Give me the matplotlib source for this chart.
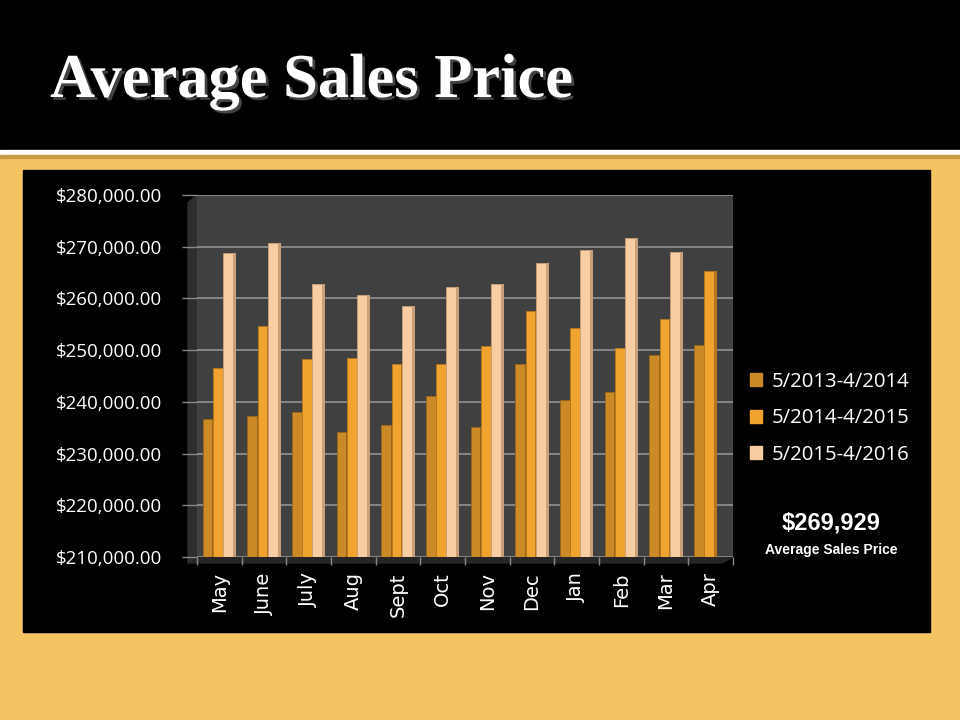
import numpy as np
import matplotlib
matplotlib.use("Agg")
import matplotlib.pyplot as plt
from matplotlib.patches import Rectangle, Polygon
from matplotlib.ticker import FuncFormatter, FixedLocator
import matplotlib.patheffects as pe

months = ["May", "June", "July", "Aug", "Sept", "Oct", "Nov", "Dec", "Jan", "Feb", "Mar", "Apr"]
series_names = ["5/2013-4/2014", "5/2014-4/2015", "5/2015-4/2016"]
s2013 = [236700, 237300, 238000, 234100, 235500, 241200, 235200, 247300, 240400, 242000, 249000, 251000]
s2014 = [246500, 254600, 248300, 248500, 247400, 247300, 250800, 257500, 254300, 250500, 256100, 265300]
s2015 = [268800, 270800, 262700, 260700, 258500, 262300, 262800, 266800, 269300, 271600, 269000, np.nan]
series = [s2013, s2014, s2015]
face_cols = ["#CC8A26", "#F0A32F", "#F8CDA2"]
side_cols = ["#9C6618", "#B8771C", "#C9A07A"]
avg_text = "$269,929"
avg_label = "Average Sales Price"

W, H = 960, 720
fig = plt.figure(figsize=(9.6, 7.2), dpi=100, facecolor="#F4C462")

def px(x0, y0, x1, y1):
    # pixel box (top-left origin) -> figure fraction rect
    return [x0 / W, 1 - y1 / H, (x1 - x0) / W, (y1 - y0) / H]

bg = fig.add_axes([0, 0, 1, 1])
bg.set_xlim(0, W)
bg.set_ylim(H, 0)
bg.axis("off")
bg.add_patch(Rectangle((0, 0), W, 150, color="black"))
bg.add_patch(Rectangle((0, 150), W, 5, color="white"))
bg.add_patch(Rectangle((0, 155), W, 3, color="#C79A45"))
bg.add_patch(Rectangle((23, 170), 907, 462, color="black"))
# left side wall and floor of the 3d box
bg.add_patch(Polygon([(188, 203), (197, 195), (197, 557), (188, 563)], color="#2E2E2E"))
bg.add_patch(Polygon([(188, 563), (197, 557), (733, 557), (722, 563)], color="#262626"))

bg.text(50, 97, "Average Sales Price", color="white", fontsize=45, fontweight="bold",
        family="Liberation Serif", va="baseline", ha="left",
        path_effects=[pe.withSimplePatchShadow(offset=(2, -2), shadow_rgbFace="#555555", alpha=0.8)])

ax = fig.add_axes(px(197, 195, 733, 557))
ax.set_facecolor("#404040")
x = np.arange(len(months))
bw = 0.22
sw = 0.07
for i, vals in enumerate(series):
    off = (i - 1) * (bw + 0.01) - sw / 2
    ax.bar(x + off, np.array(vals) - 210000, bottom=210000, width=bw, color=face_cols[i],
           edgecolor=side_cols[i], linewidth=0.6, zorder=3)
    ax.bar(x + off + bw / 2 + sw / 2, np.array(vals) - 210000, bottom=210000, width=sw,
           color=side_cols[i], linewidth=0, zorder=3)

ax.set_xlim(-0.5, len(months) - 0.5)
ax.set_ylim(210000, 280000)
ax.set_yticks(np.arange(210000, 280001, 10000))
ax.yaxis.set_major_formatter(FuncFormatter(lambda v, p: "${:,.2f}".format(v)))
ax.grid(axis="y", color="#8C8C8C", linewidth=1.3, zorder=0)
ax.set_xticks(x)
ax.set_xticklabels(months, rotation=90, color="white", fontsize=14, family="DejaVu Sans")
ax.xaxis.set_minor_locator(FixedLocator(np.arange(-0.5, len(months), 1)))
ax.tick_params(axis="x", which="major", length=0, pad=11)
ax.tick_params(axis="x", which="minor", length=6, color="#888888", width=1)
ax.tick_params(axis="y", colors="#888888", labelcolor="white", labelsize=13.5, length=11, width=1, pad=14)
for lab in ax.get_yticklabels():
    lab.set_family("Open Sans")
for sp in ax.spines.values():
    sp.set_visible(False)

handles = [Rectangle((0, 0), 1, 1, color=c) for c in face_cols]
leg = fig.legend(handles, series_names, loc="upper left", bbox_to_anchor=(750 / W, 1 - 372 / H),
                 frameon=False, prop={"family": "Open Sans", "size": 14.7}, labelcolor="white",
                 handlelength=0.6, handleheight=0.6, handletextpad=0.45, labelspacing=0.8,
                 borderaxespad=0, borderpad=0)

bg.text(831, 523, avg_text, color="white", fontsize=17, fontweight="bold",
        family="Liberation Sans", ha="center", va="center")
bg.text(831, 550, avg_label, color="white", fontsize=10, fontweight="bold",
        family="Liberation Sans", ha="center", va="center")

fig.savefig("out.png", dpi=100, facecolor=fig.get_facecolor())
